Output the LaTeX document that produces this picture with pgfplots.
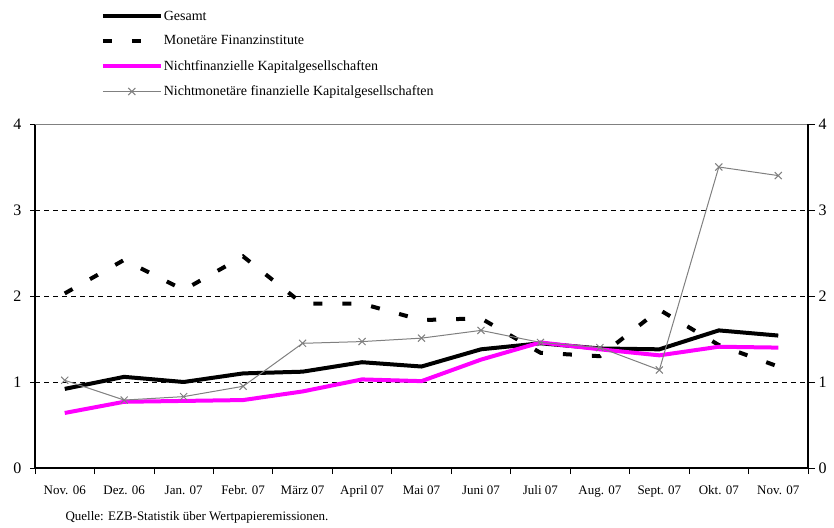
\documentclass[border=0pt]{standalone}
\usepackage{fontspec}
\setmainfont{Liberation Serif}
\usepackage{pgfplots}
\pgfplotsset{compat=1.18}
\definecolor{mag}{RGB}{255,0,255}
\definecolor{gry}{RGB}{128,128,128}
\begin{document}
\begin{tikzpicture}
\useasboundingbox (0,0) rectangle (834pt,527pt);
\begin{axis}[
  at={(35pt,59pt)}, anchor=south west,
  scale only axis, width=773pt, height=344pt,
  xmin=-0.5, xmax=12.5, ymin=0, ymax=4,
  axis x line*=bottom, axis y line*=left,
  axis line style={line width=1.2pt},
  xtick={0,...,12},
  xticklabels={Nov. 06,Dez. 06,Jan. 07,Febr. 07,März 07,April 07,Mai 07,Juni 07,Juli 07,Aug. 07,Sept. 07,Okt. 07,Nov. 07},
  major x tick style={draw=none},
  minor xtick={-0.5,0.5,...,12.5},
  minor tick length=6pt,
  tick align=outside,
  major tick length=5pt,
  ytick={0,1,2,3,4},
  ymajorgrids, grid style={black, dash pattern=on 5pt off 4pt, line width=0.6pt},
  xticklabel style={font=\fontsize{13}{15}\selectfont, yshift=-9pt},
  yticklabel style={font=\fontsize{16}{18}\selectfont, xshift=-5pt},
  /pgf/number format/assume math mode=true,
  tick style={black, line width=0.8pt},
  legend style={at={(0.081,1.338)}, anchor=north west, draw=none, fill=none,
    font=\fontsize{14}{16}\selectfont, row sep=12pt,
    nodes={inner sep=1pt}},
  legend cell align=left,
  legend image code/.code={\draw[mark repeat=2,mark phase=2,#1] plot coordinates {(0pt,0pt) (29pt,0pt) (58pt,0pt)};},
  clip=false,
]
\draw[gry, line width=0.8pt] (rel axis cs:0,1) -- (rel axis cs:1,1);
\addplot[black, line width=4pt, line join=round] coordinates {
(0,0.92) (1,1.06) (2,1.00) (3,1.10) (4,1.12) (5,1.23) (6,1.18) (7,1.38) (8,1.45) (9,1.39) (10,1.38) (11,1.60) (12,1.54)};
\addlegendentry{Gesamt}
\addplot[black, line width=4pt, dash pattern=on 9pt off 20pt] coordinates {
(0,2.03) (1,2.42) (2,2.07) (3,2.46) (4,1.91) (5,1.91) (6,1.72) (7,1.74) (8,1.34) (9,1.30) (10,1.84) (11,1.43) (12,1.18)};
\addlegendentry{Monetäre Finanzinstitute}
\addplot[mag, line width=4pt, line join=round] coordinates {
(0,0.64) (1,0.77) (2,0.78) (3,0.79) (4,0.89) (5,1.03) (6,1.01) (7,1.26) (8,1.46) (9,1.38) (10,1.31) (11,1.41) (12,1.40)};
\addlegendentry{Nichtfinanzielle Kapitalgesellschaften}
\addplot[gry, line width=1pt, mark=x, mark size=5pt, mark options={solid, line width=1pt}] coordinates {
(0,1.02) (1,0.79) (2,0.83) (3,0.95) (4,1.45) (5,1.47) (6,1.51) (7,1.60) (8,1.46) (9,1.40) (10,1.14) (11,3.50) (12,3.40)};
\addlegendentry{Nichtmonetäre finanzielle Kapitalgesellschaften}
\end{axis}
\begin{axis}[
  at={(35pt,59pt)}, anchor=south west,
  scale only axis, width=773pt, height=344pt,
  xmin=-0.5, xmax=12.5, ymin=0, ymax=4,
  axis x line=none, axis y line*=right,
  axis line style={line width=1.2pt},
  ytick={0,1,2,3,4},
  tick align=outside, major tick length=7pt,
  tick style={black, line width=0.8pt},
  yticklabel style={font=\fontsize{16}{18}\selectfont},
  /pgf/number format/assume math mode=true,
]
\end{axis}
\node[anchor=base west, font=\fontsize{13}{15}\selectfont] at (62pt,7pt) {Quelle: EZB-Statistik über Wertpapieremissionen.};
\end{tikzpicture}
\end{document}
